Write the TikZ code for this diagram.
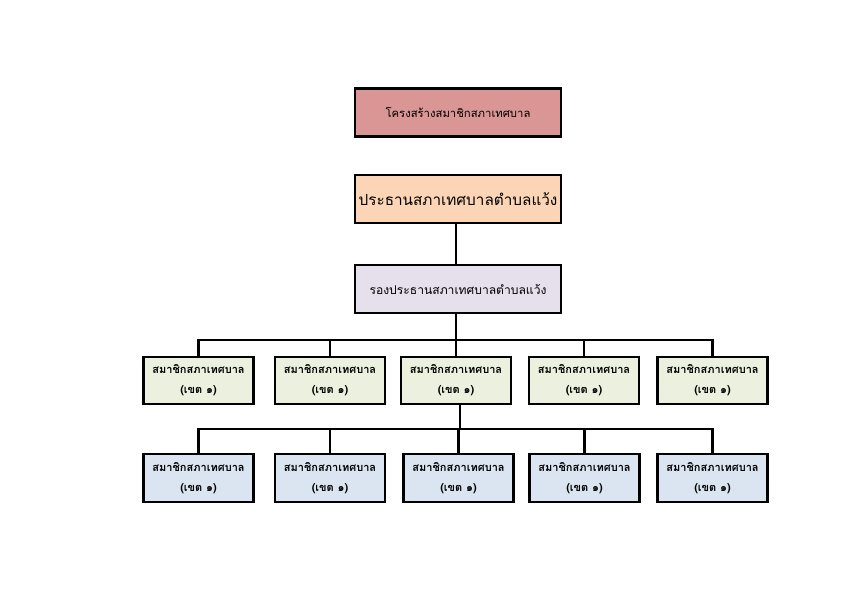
\documentclass[tikz,border=0pt]{standalone}
\usepackage{fontspec}
\newfontfamily\thaifont[Script=Thai]{Loma}
\definecolor{cTop}{HTML}{D99694}
\definecolor{cPres}{HTML}{FBD5B5}
\definecolor{cVice}{HTML}{E6E0EC}
\definecolor{cUp}{HTML}{EBF1DE}
\definecolor{cLow}{HTML}{DBE5F1}
\tikzset{
  box/.style={draw=black, line width=2.8pt, align=center, inner sep=2pt},
  bigbox/.style={box, minimum width=206pt, minimum height=48pt},
  member/.style={box, minimum width=110pt, minimum height=47pt, font=\thaifont\bfseries\fontsize{11}{20}\selectfont},
  conn/.style={line width=2.8pt, line cap=rect}
}
\begin{document}
\begin{tikzpicture}[x=1pt,y=1pt]
\useasboundingbox (0,0) rectangle (850,-595);
\fill[white] (0,0) rectangle (850,-595);

\node[bigbox, fill=cTop, font=\thaifont\fontsize{11.3}{14}\selectfont] (top) at (458,-112.5) {โครงสร้างสมาชิกสภาเทศบาล};
\node[bigbox, fill=cPres, font=\thaifont\fontsize{15.3}{20}\selectfont] (pres) at (458,-199) {ประธานสภาเทศบาลตำบลแว้ง};
\node[bigbox, fill=cVice, font=\thaifont\fontsize{12.1}{16}\selectfont] (vice) at (458,-289) {รองประธานสภาเทศบาลตำบลแว้ง};

\node[member, fill=cUp] (u1) at (198.5,-380.5) {สมาชิกสภาเทศบาล\\(เขต ๑)};
\node[member, fill=cUp] (u2) at (330,-380.5) {สมาชิกสภาเทศบาล\\(เขต ๑)};
\node[member, fill=cUp] (u3) at (456,-380.5) {สมาชิกสภาเทศบาล\\(เขต ๑)};
\node[member, fill=cUp] (u4) at (584,-380.5) {สมาชิกสภาเทศบาล\\(เขต ๑)};
\node[member, fill=cUp] (u5) at (712.5,-380.5) {สมาชิกสภาเทศบาล\\(เขต ๑)};

\node[member, fill=cLow, minimum height=48pt] (l1) at (198.5,-478) {สมาชิกสภาเทศบาล\\(เขต ๑)};
\node[member, fill=cLow, minimum height=48pt] (l2) at (330,-478) {สมาชิกสภาเทศบาล\\(เขต ๑)};
\node[member, fill=cLow, minimum height=48pt] (l3) at (458.5,-478) {สมาชิกสภาเทศบาล\\(เขต ๑)};
\node[member, fill=cLow, minimum height=48pt] (l4) at (584.5,-478) {สมาชิกสภาเทศบาล\\(เขต ๑)};
\node[member, fill=cLow, minimum height=48pt] (l5) at (712.5,-478) {สมาชิกสภาเทศบาล\\(เขต ๑)};

\coordinate (bus1) at (456,-340);
\coordinate (bus2) at (460,-429);

\draw[conn] (pres.south -| bus1) -- (vice.north -| bus1);
\draw[conn] (vice.south -| bus1) -- (bus1);
\draw[conn] (u1.north |- bus1) -- (u5.north |- bus1);
\foreach \n in {u1,u2,u3,u4,u5} \draw[conn] (\n.north |- bus1) -- (\n.north);

\draw[conn] (u3.south -| bus2) -- (bus2);
\draw[conn] (l1.north |- bus2) -- (l5.north |- bus2);
\foreach \n in {l1,l2,l3,l4,l5} \draw[conn] (\n.north |- bus2) -- (\n.north);
\end{tikzpicture}
\end{document}
